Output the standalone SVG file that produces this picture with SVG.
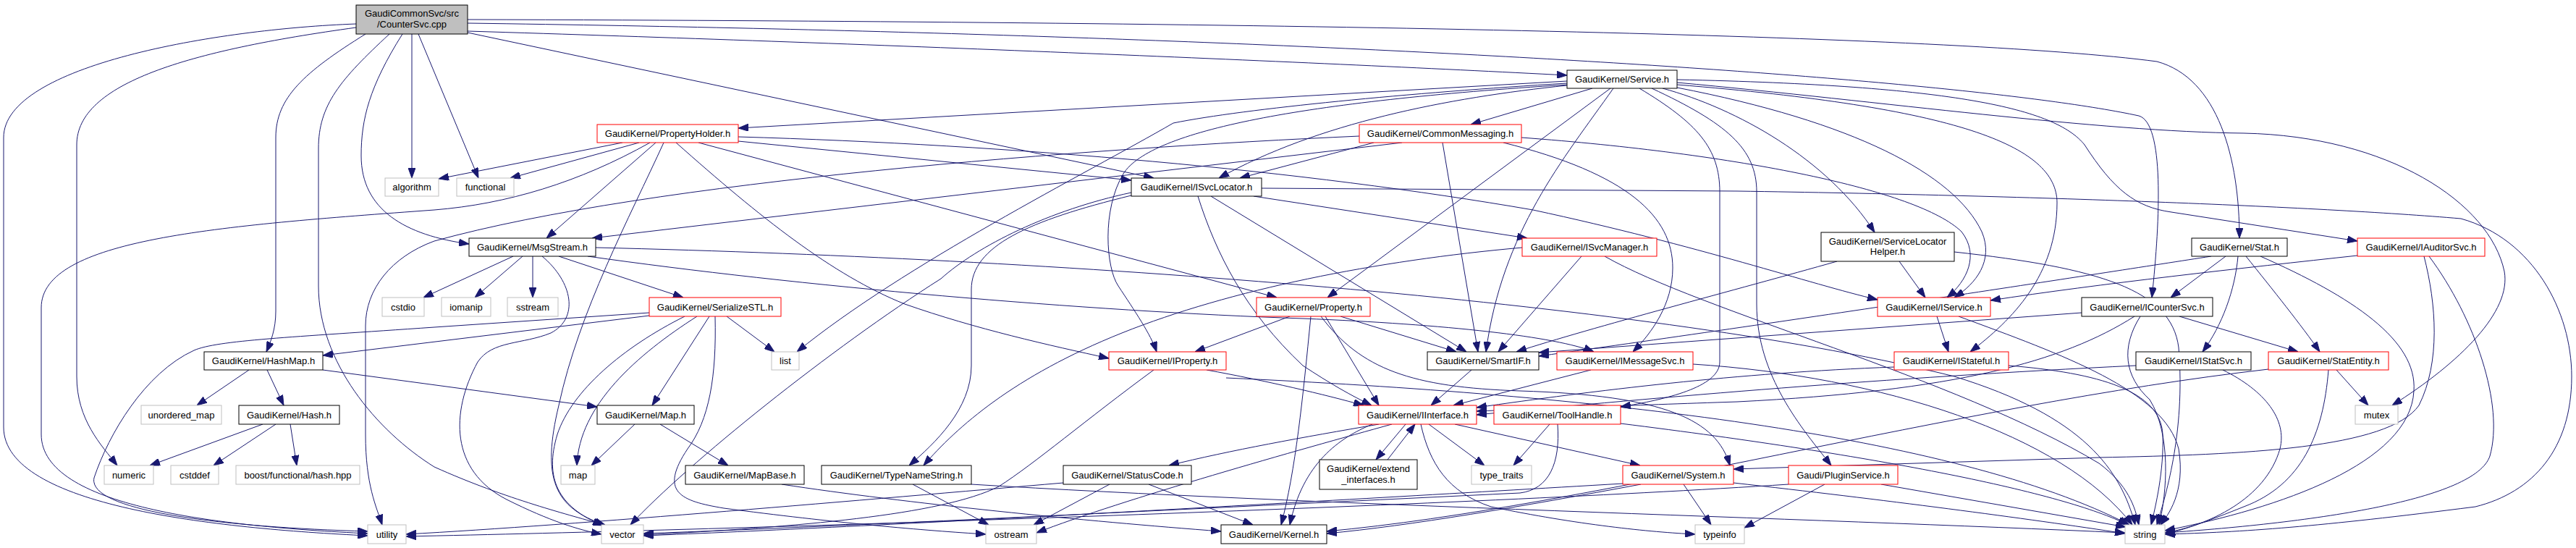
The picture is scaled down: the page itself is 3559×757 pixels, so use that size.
<svg xmlns="http://www.w3.org/2000/svg" width="3559" height="757" viewBox="0 0 3559 757">
<defs>
<marker id="a" viewBox="0 0 14 10" refX="14" refY="5" markerWidth="14" markerHeight="10" markerUnits="userSpaceOnUse" orient="auto"><path d="M0,0L14,5L0,10z" fill="#191970" stroke="#191970" stroke-width="1"/></marker>
<style>
rect{fill:#fff;stroke:#000;stroke-width:1}
.r rect{stroke:#f00}
.g rect{stroke:#bfbfbf}
#root rect{fill:#bfbfbf}
text{font-family:"Liberation Sans",Arial,sans-serif;font-size:13px;text-anchor:middle;fill:#000}
#edges path{fill:none;stroke:#191970;stroke-width:1;marker-end:url(#a)}
</style>
</defs>
<rect x="0" y="0" width="3559" height="757" style="fill:#fff;stroke:none"/>
<g id="edges">
<path d="M492,33 C300,40 5,90 5,190 L5,590 C5,700 300,730 508,740"/>
<path d="M492,38 C260,70 106,115 106,200 L106,520 C106,580 140,615 162,643"/>
<path d="M505,47 C420,100 381,135 381,190 L381,430 C381,455 374,472 368,486"/>
<path d="M538,47 C470,110 440,145 440,205 L440,395 C440,500 520,595 600,645 C700,690 790,712 834,725"/>
<path d="M556,47 C510,120 499,165 499,215 C499,290 560,325 648,337"/>
<path d="M569,47 L569,246"/>
<path d="M578,47 L661,246"/>
<path d="M646,45 L1594,246"/>
<path d="M646,43 C1200,60 1800,85 2165,104"/>
<path d="M646,32 C1800,48 2700,105 2955,160 C2990,170 2985,300 2973,411"/>
<path d="M646,27 C1800,30 2700,48 2980,85 C3065,108 3094,220 3094,329"/>
<path d="M2165,112 L1020,177"/>
<path d="M2200,122 L2032,172"/>
<path d="M2165,118 C2000,135 1820,170 1684,246"/>
<path d="M2165,115 C1950,128 1720,150 1621,170 C1500,240 1250,365 1101,486"/>
<path d="M2165,117 C1800,140 1590,180 1552,240 C1522,290 1528,370 1545,395 C1568,430 1590,462 1598,486"/>
<path d="M2225,122 L1834,411"/>
<path d="M2229,122 C2160,220 2075,320 2053,486"/>
<path d="M2265,122 C2345,170 2376,205 2376,265 L2376,500 C2376,535 2300,552 2239,562"/>
<path d="M2282,122 C2385,170 2427,205 2427,265 L2427,420 C2427,520 2490,592 2530,643"/>
<path d="M2317,110 C2700,118 2840,150 2880,200 C2920,262 2950,286 3000,293 L3257,333"/>
<path d="M2317,114 C2600,140 2900,182 3100,184 C3300,188 3440,280 3460,375 C3470,430 3400,500 3305,560"/>
<path d="M2317,117 C2700,148 2842,200 2842,280 C2842,380 2780,442 2722,486"/>
<path d="M2317,121 C2560,168 2700,240 2738,320 C2755,360 2730,392 2700,411"/>
<path d="M2297,122 C2400,150 2525,220 2590,321"/>
<path d="M860,197 L606,247"/>
<path d="M883,197 L705,246"/>
<path d="M898,197 C800,252 700,282 600,290 C300,312 57,330 57,425 L57,600 C57,700 300,727 508,737"/>
<path d="M906,197 L755,329"/>
<path d="M917,197 C870,300 800,430 772,560 C748,660 765,702 836,725"/>
<path d="M934,197 C1050,300 1150,380 1250,420 C1350,455 1450,477 1532,495"/>
<path d="M965,197 L1764,411"/>
<path d="M1020,195 L1563,249"/>
<path d="M1020,189 C1400,200 1800,235 2118,290 C2350,340 2500,392 2594,414"/>
<path d="M1878,188 C1500,205 900,250 600,333 C540,355 505,400 505,450 L505,600 C505,670 520,700 528,725"/>
<path d="M1898,197 L1713,246"/>
<path d="M1937,197 L818,329"/>
<path d="M1993,197 L2042,486"/>
<path d="M2077,197 C2250,240 2311,300 2311,370 C2311,420 2282,460 2256,486"/>
<path d="M2102,190 C2400,212 2650,262 2710,320 C2735,352 2718,388 2690,411"/>
<path d="M1563,266 C1450,290 1350,340 1300,385 C1150,480 950,640 871,725"/>
<path d="M1563,270 C1420,305 1342,340 1342,400 L1342,505 C1342,565 1292,612 1256,643"/>
<path d="M1655,271 C1680,350 1720,430 1800,505 C1838,530 1866,546 1895,560"/>
<path d="M1673,271 L2026,486"/>
<path d="M1732,271 L2110,329"/>
<path d="M1743,260 L2400,264 C2800,270 3200,285 3400,302 C3500,330 3553,430 3553,520 C3553,620 3500,680 3420,700 C3200,728 3100,735 2991,738"/>
<path d="M709,354 L585,411"/>
<path d="M722,354 L656,411"/>
<path d="M736,354 L736,411"/>
<path d="M749,354 C792,390 800,440 761,460 C722,476 680,470 660,500 C622,570 622,650 700,690 C760,720 800,732 831,738"/>
<path d="M772,354 L944,411"/>
<path d="M812,354 C1100,395 1500,430 1800,440 C2000,448 2150,465 2202,486"/>
<path d="M823,342 C1500,358 2300,420 2700,520 C2880,575 2930,650 2950,725"/>
<path d="M344,511 L272,560"/>
<path d="M369,511 L392,560"/>
<path d="M446,511 L825,562"/>
<path d="M363,586 L207,643"/>
<path d="M381,586 L295,643"/>
<path d="M401,586 L410,643"/>
<path d="M897,432 L600,452 C400,466 300,470 268,484 C200,515 150,600 130,660 C120,705 300,728 508,734"/>
<path d="M897,436 L446,491"/>
<path d="M946,437 C860,480 790,540 770,600 C752,660 770,700 833,726"/>
<path d="M963,437 C880,490 800,560 797,643"/>
<path d="M980,437 L901,560"/>
<path d="M1004,437 L1070,486"/>
<path d="M988,437 C990,520 980,580 950,620 C910,680 940,692 1000,702 C1150,722 1280,733 1362,738"/>
<path d="M877,586 L817,643"/>
<path d="M912,586 L1006,643"/>
<path d="M1080,669 C1250,695 1500,720 1687,734"/>
<path d="M1261,669 L1366,725"/>
<path d="M1342,669 C1800,697 2500,716 2936,736"/>
<path d="M1533,669 L1428,725"/>
<path d="M1587,669 L1731,725"/>
<path d="M1469,667 C1200,690 800,725 561,738"/>
<path d="M1905,586 C1800,604 1700,622 1615,643"/>
<path d="M1923,586 C1800,620 1550,690 1432,736"/>
<path d="M1942,586 L1901,635"/>
<path d="M1917,635 L1955,586"/>
<path d="M1974,586 L2051,643"/>
<path d="M1963,586 C1975,640 2000,680 2060,700 C2180,725 2280,735 2342,738"/>
<path d="M2010,586 L2266,643"/>
<path d="M1896,586 C1850,605 1800,640 1782,725"/>
<path d="M2141,586 L2091,643"/>
<path d="M2152,586 C2156,640 2140,676 2100,681 C1700,700 1200,726 889,737"/>
<path d="M2239,585 C2600,630 2850,680 2940,725"/>
<path d="M2326,669 L2364,725"/>
<path d="M2267,669 C2100,700 1950,726 1833,737"/>
<path d="M2242,668 C1800,694 1200,728 889,740"/>
<path d="M2395,667 C2600,690 2800,716 2936,737"/>
<path d="M2521,669 L2410,729"/>
<path d="M2599,669 L2937,728"/>
<path d="M2471,669 C2000,700 1000,732 561,741"/>
<path d="M1782,437 L1651,486"/>
<path d="M1811,437 C1800,550 1790,650 1770,725"/>
<path d="M1825,437 C1880,510 1950,535 2100,540 C2300,546 2372,580 2390,643"/>
<path d="M1831,437 L1905,560"/>
<path d="M1852,437 L2012,486"/>
<path d="M1667,511 C1750,526 1830,545 1884,560"/>
<path d="M1694,522 C2200,545 2700,600 2942,725"/>
<path d="M1594,511 C1500,580 1430,640 1380,672 C1300,712 1100,728 889,739"/>
<path d="M2033,511 L1977,560"/>
<path d="M2198,511 L2008,560"/>
<path d="M2339,503 C2600,520 2850,600 2946,725"/>
<path d="M2676,437 L2692,486"/>
<path d="M2706,437 C2850,490 2990,540 3010,620 C3020,680 2995,712 2985,725"/>
<path d="M2617,507 C2400,515 2200,540 2040,563"/>
<path d="M2775,505 C2900,515 2985,540 2988,600 C2990,650 2978,700 2972,725"/>
<path d="M3011,437 L3175,486"/>
<path d="M2876,432 L2126,487"/>
<path d="M2949,437 C2850,500 2700,540 2400,555 C2250,560 2120,565 2040,568"/>
<path d="M2957,437 C2930,480 2935,520 2970,552 C3000,600 2994,680 2983,725"/>
<path d="M3075,354 L2999,411"/>
<path d="M3092,354 C3088,400 3070,450 3043,486"/>
<path d="M3103,354 C3140,400 3180,450 3205,486"/>
<path d="M3123,354 C3250,410 3340,470 3335,540 C3330,640 3150,702 2991,733"/>
<path d="M3055,354 C2900,378 2500,440 2126,492"/>
<path d="M3257,353 C3100,370 2900,392 2750,415"/>
<path d="M3349,354 C3366,420 3372,500 3342,560 C3300,620 3100,628 2900,632 L2395,648"/>
<path d="M3356,354 C3420,440 3460,560 3440,630 C3420,690 3200,722 2991,736"/>
<path d="M2951,505 C2600,522 2300,548 2040,573"/>
<path d="M3071,511 C3130,540 3160,580 3150,620 C3130,690 3050,726 2991,736"/>
<path d="M3228,511 L3272,560"/>
<path d="M3217,511 C3210,600 3180,670 3100,700 C3050,720 3020,731 2991,738"/>
<path d="M3134,510 C2700,560 2200,700 1833,734"/>
<path d="M2103,342 C1900,360 1700,400 1550,460 C1400,520 1322,590 1276,643"/>
<path d="M2185,354 L2070,486"/>
<path d="M2217,354 C2350,430 2700,520 2900,640 C2940,670 2950,700 2955,725"/>
<path d="M2538,361 C2400,400 2200,452 2095,486"/>
<path d="M2624,361 L2660,411"/>
<path d="M2700,348 C2900,370 3000,400 3010,480 C3020,600 2990,690 2980,725"/>
</g>
<g id="root"><rect x="492" y="7" width="154" height="40"/><text x="569" y="23">GaudiCommonSvc/src</text><text x="569" y="38">/CounterSvc.cpp</text></g>
<g id="service"><rect x="2165" y="97" width="152" height="25"/><text x="2241" y="114">GaudiKernel/Service.h</text></g>
<g id="propertyholder" class="r"><rect x="825" y="172" width="195" height="25"/><text x="922.5" y="189">GaudiKernel/PropertyHolder.h</text></g>
<g id="commonmessaging" class="r"><rect x="1878" y="172" width="224" height="25"/><text x="1990" y="189">GaudiKernel/CommonMessaging.h</text></g>
<g id="algorithm" class="g"><rect x="532" y="246" width="74" height="25"/><text x="569" y="263">algorithm</text></g>
<g id="functional" class="g"><rect x="631" y="246" width="79" height="25"/><text x="670.5" y="263">functional</text></g>
<g id="isvclocator"><rect x="1563" y="246" width="180" height="25"/><text x="1653" y="263">GaudiKernel/ISvcLocator.h</text></g>
<g id="msgstream"><rect x="648" y="329" width="175" height="25"/><text x="735.5" y="346">GaudiKernel/MsgStream.h</text></g>
<g id="isvcmanager" class="r"><rect x="2103" y="329" width="186" height="25"/><text x="2196" y="346">GaudiKernel/ISvcManager.h</text></g>
<g id="servicelocatorhelper"><rect x="2516" y="321" width="184" height="40"/><text x="2608" y="337.5">GaudiKernel/ServiceLocator</text><text x="2608" y="352">Helper.h</text></g>
<g id="stat"><rect x="3028" y="329" width="132" height="25"/><text x="3094" y="346">GaudiKernel/Stat.h</text></g>
<g id="iauditorsvc" class="r"><rect x="3257" y="329" width="176" height="25"/><text x="3345" y="346">GaudiKernel/IAuditorSvc.h</text></g>
<g id="cstdio" class="g"><rect x="528" y="411" width="58" height="26"/><text x="557" y="428.5">cstdio</text></g>
<g id="iomanip" class="g"><rect x="610" y="411" width="68" height="26"/><text x="644" y="428.5">iomanip</text></g>
<g id="sstream" class="g"><rect x="701" y="411" width="70" height="26"/><text x="736" y="428.5">sstream</text></g>
<g id="serializestl" class="r"><rect x="897" y="411" width="182" height="26"/><text x="988" y="428.5">GaudiKernel/SerializeSTL.h</text></g>
<g id="property" class="r"><rect x="1736" y="411" width="157" height="26"/><text x="1814.5" y="428.5">GaudiKernel/Property.h</text></g>
<g id="iservice" class="r"><rect x="2594" y="411" width="156" height="26"/><text x="2672" y="428.5">GaudiKernel/IService.h</text></g>
<g id="icountersvc"><rect x="2876" y="411" width="181" height="26"/><text x="2966.5" y="428.5">GaudiKernel/ICounterSvc.h</text></g>
<g id="hashmap"><rect x="282" y="486" width="164" height="25"/><text x="364" y="503">GaudiKernel/HashMap.h</text></g>
<g id="list" class="g"><rect x="1066" y="486" width="38" height="25"/><text x="1085" y="503">list</text></g>
<g id="iproperty" class="r"><rect x="1532" y="486" width="162" height="25"/><text x="1613" y="503">GaudiKernel/IProperty.h</text></g>
<g id="smartif"><rect x="1972" y="486" width="154" height="25"/><text x="2049" y="503">GaudiKernel/SmartIF.h</text></g>
<g id="imessagesvc" class="r"><rect x="2151" y="486" width="188" height="25"/><text x="2245" y="503">GaudiKernel/IMessageSvc.h</text></g>
<g id="istateful" class="r"><rect x="2617" y="486" width="158" height="25"/><text x="2696" y="503">GaudiKernel/IStateful.h</text></g>
<g id="istatsvc"><rect x="2951" y="486" width="159" height="25"/><text x="3030.5" y="503">GaudiKernel/IStatSvc.h</text></g>
<g id="statentity" class="r"><rect x="3134" y="486" width="166" height="25"/><text x="3217" y="503">GaudiKernel/StatEntity.h</text></g>
<g id="unordered_map" class="g"><rect x="195" y="560" width="111" height="26"/><text x="250.5" y="577.5">unordered_map</text></g>
<g id="hash"><rect x="330" y="560" width="139" height="26"/><text x="399.5" y="577.5">GaudiKernel/Hash.h</text></g>
<g id="maph"><rect x="825" y="560" width="134" height="26"/><text x="892" y="577.5">GaudiKernel/Map.h</text></g>
<g id="iinterface" class="r"><rect x="1877" y="560" width="163" height="26"/><text x="1958.5" y="577.5">GaudiKernel/IInterface.h</text></g>
<g id="toolhandle" class="r"><rect x="2064" y="560" width="175" height="26"/><text x="2151.5" y="577.5">GaudiKernel/ToolHandle.h</text></g>
<g id="mutex" class="g"><rect x="3254" y="560" width="59" height="26"/><text x="3283.5" y="577.5">mutex</text></g>
<g id="numeric" class="g"><rect x="144" y="643" width="68" height="26"/><text x="178" y="660.5">numeric</text></g>
<g id="cstddef" class="g"><rect x="236" y="643" width="66" height="26"/><text x="269" y="660.5">cstddef</text></g>
<g id="boosthash" class="g"><rect x="326" y="643" width="171" height="26"/><text x="411.5" y="660.5">boost/functional/hash.hpp</text></g>
<g id="map" class="g"><rect x="775" y="643" width="47" height="26"/><text x="798.5" y="660.5">map</text></g>
<g id="mapbase"><rect x="947" y="643" width="164" height="26"/><text x="1029" y="660.5">GaudiKernel/MapBase.h</text></g>
<g id="typenamestring"><rect x="1135" y="643" width="207" height="26"/><text x="1238.5" y="660.5">GaudiKernel/TypeNameString.h</text></g>
<g id="statuscode"><rect x="1469" y="643" width="177" height="26"/><text x="1557.5" y="660.5">GaudiKernel/StatusCode.h</text></g>
<g id="extend_interfaces"><rect x="1823" y="635" width="135" height="41"/><text x="1890.5" y="652">GaudiKernel/extend</text><text x="1890.5" y="667">_interfaces.h</text></g>
<g id="type_traits" class="g"><rect x="2033" y="643" width="83" height="26"/><text x="2074.5" y="660.5">type_traits</text></g>
<g id="system" class="r"><rect x="2242" y="643" width="153" height="26"/><text x="2318.5" y="660.5">GaudiKernel/System.h</text></g>
<g id="pluginservice" class="r"><rect x="2471" y="643" width="151" height="26"/><text x="2546.5" y="660.5">Gaudi/PluginService.h</text></g>
<g id="utility" class="g"><rect x="508" y="725" width="53" height="26"/><text x="534.5" y="742.5">utility</text></g>
<g id="vector" class="g"><rect x="831" y="725" width="58" height="26"/><text x="860" y="742.5">vector</text></g>
<g id="ostream" class="g"><rect x="1362" y="725" width="70" height="26"/><text x="1397" y="742.5">ostream</text></g>
<g id="kernel"><rect x="1687" y="725" width="146" height="26"/><text x="1760" y="742.5">GaudiKernel/Kernel.h</text></g>
<g id="typeinfo" class="g"><rect x="2342" y="725" width="68" height="26"/><text x="2376" y="742.5">typeinfo</text></g>
<g id="string" class="g"><rect x="2936" y="725" width="55" height="26"/><text x="2963.5" y="742.5">string</text></g>
</svg>
